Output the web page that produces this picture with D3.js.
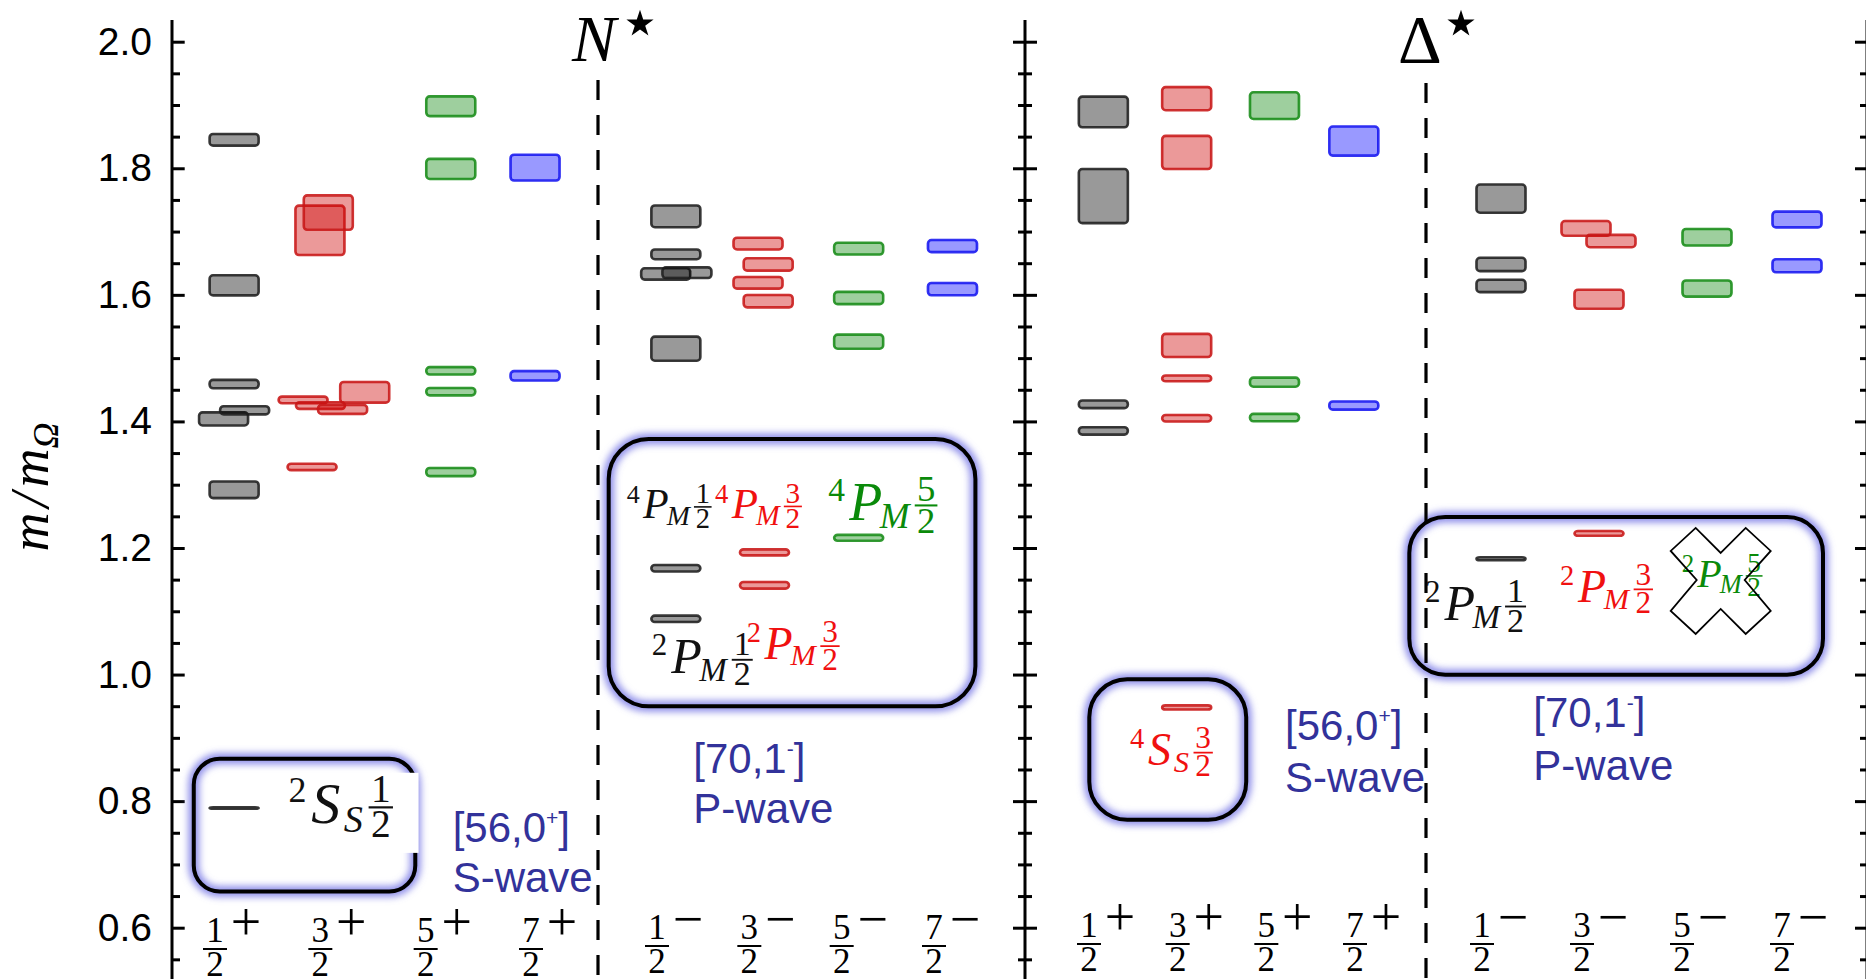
<!DOCTYPE html>
<html><head><meta charset="utf-8">
<script src="https://cdn.jsdelivr.net/npm/d3@7"></script>
<style>html,body{margin:0;padding:0;background:#fff}svg{display:block}</style>
</head><body>
<svg id="chart" width="1866" height="979"></svg>
<script>
// ---------------- DATA ----------------
const jLabels = ["1/2", "3/2", "5/2", "7/2"];
const tickLabels = ["0.6", "0.8", "1.0", "1.2", "1.4", "1.6", "1.8", "2.0"];
// each level: [J, m/mOmega, half-width of band, sideways shift (in category steps)]
const nStarPositive = [
  ["1/2", 1.845, 0.0113, 0.02], ["1/2", 1.615, 0.0179, 0.02], ["1/2", 1.459, 0.0087, 0.02],
  ["1/2", 1.404, 0.0124, -0.08], ["1/2", 1.4175, 0.0085, 0.12], ["1/2", 1.292, 0.0152, 0.02],
  ["1/2", 0.789, 0.0032, 0.02],
  ["3/2", 1.702, 0.0411, -0.165], ["3/2", 1.730, 0.0292, -0.086], ["3/2", 1.434, 0.0073, -0.325],
  ["3/2", 1.425, 0.0073, -0.16], ["3/2", 1.419, 0.0092, 0.05], ["3/2", 1.446, 0.0184, 0.26],
  ["3/2", 1.328, 0.0071, -0.24],
  ["5/2", 1.898, 0.0176, 0.077], ["5/2", 1.799, 0.0179, 0.077], ["5/2", 1.480, 0.0079, 0.077],
  ["5/2", 1.447, 0.0079, 0.077], ["5/2", 1.320, 0.0085, 0.077],
  ["7/2", 1.801, 0.0224, -0.123], ["7/2", 1.472, 0.0095, -0.123]
];
const nStarNegative = [
  ["1/2", 1.724, 0.0192, 0.02], ["1/2", 1.664, 0.0097, 0.02], ["1/2", 1.633, 0.0110, -0.09],
  ["1/2", 1.635, 0.0105, 0.14], ["1/2", 1.515, 0.0211, 0.02], ["1/2", 1.168, 0.0071, 0.02],
  ["1/2", 1.088, 0.0071, 0.02],
  ["3/2", 1.681, 0.0113, -0.09], ["3/2", 1.648, 0.0118, 0.02], ["3/2", 1.619, 0.0113, -0.09],
  ["3/2", 1.590, 0.0118, 0.02], ["3/2", 1.193, 0.0068, -0.02], ["3/2", 1.141, 0.0073, -0.02],
  ["5/2", 1.673, 0.0113, 0], ["5/2", 1.595, 0.0118, 0], ["5/2", 1.526, 0.0132, 0], ["5/2", 1.216, 0.0067, 0],
  ["7/2", 1.677, 0.0116, 0.016], ["7/2", 1.609, 0.0118, 0.016]
];
const deltaPositive = [
  ["1/2", 1.889, 0.0263, -0.03], ["1/2", 1.756, 0.0448, -0.03], ["1/2", 1.427, 0.0081, -0.03], ["1/2", 1.385, 0.0079, -0.03],
  ["3/2", 1.910, 0.0203, -0.09], ["3/2", 1.825, 0.0282, -0.09], ["3/2", 1.520, 0.0203, -0.09],
  ["3/2", 1.468, 0.0066, -0.09], ["3/2", 1.405, 0.0073, -0.09], ["3/2", 0.948, 0.0053, -0.09],
  ["5/2", 1.899, 0.0231, -0.10], ["5/2", 1.462, 0.0092, -0.10], ["5/2", 1.406, 0.0079, -0.10],
  ["7/2", 1.843, 0.0250, -0.205], ["7/2", 1.425, 0.0085, -0.205]
];
const deltaNegative = [
  ["1/2", 1.752, 0.0243, 0.02], ["1/2", 1.648, 0.0126, 0.02], ["1/2", 1.614, 0.0118, 0.02], ["1/2", 1.183, 0.0045, 0.02],
  ["3/2", 1.705, 0.0137, -0.13], ["3/2", 1.685, 0.0118, 0.12], ["3/2", 1.593, 0.0171, 0], ["3/2", 1.223, 0.0058, 0],
  ["5/2", 1.691, 0.0152, 0.08], ["5/2", 1.610, 0.0148, 0.08],
  ["7/2", 1.719, 0.0145, -0.02], ["7/2", 1.646, 0.0124, -0.02]
];
const parities = ["+", "−", "+", "−"];
const multipletTop = [["[56,0", "+", "]"], ["[70,1", "-", "]"], ["[56,0", "+", "]"], ["[70,1", "-", "]"]];
const multipletBottom = ["S-wave", "P-wave", "S-wave", "P-wave"];
const termLabels = [
  {panel: 0, s: 0.537, m: 0.7654, fs: 58, pre: "2", main: "S", sub: "S", num: "1", den: "2", c: "k"},
  {panel: 1, s: -0.512, m: 1.247, fs: 42, pre: "4", main: "P", sub: "M", num: "1", den: "2", c: "k"},
  {panel: 1, s: 0.444, m: 1.2473, fs: 43, pre: "4", main: "P", sub: "M", num: "3", den: "2", c: "r"},
  {panel: 1, s: 1.671, m: 1.2442, fs: 54, pre: "4", main: "P", sub: "M", num: "5", den: "2", c: "g"},
  {panel: 1, s: -0.2415, m: 1.002, fs: 50, pre: "2", main: "P", sub: "M", num: "1", den: "2", c: "k"},
  {panel: 1, s: 0.787, m: 1.0253, fs: 46, pre: "2", main: "P", sub: "M", num: "3", den: "2", c: "r"},
  {panel: 2, s: 0.271, m: 0.857, fs: 46, pre: "4", main: "S", sub: "S", num: "3", den: "2", c: "r"},
  {panel: 3, s: -0.74, m: 1.0862, fs: 50, pre: "2", main: "P", sub: "M", num: "1", den: "2", c: "k"},
  {panel: 3, s: 0.61, m: 1.115, fs: 46, pre: "2", main: "P", sub: "M", num: "3", den: "2", c: "r"},
  {panel: 3, s: 1.827, m: 1.1388, fs: 40, pre: "2", main: "P", sub: "M", num: "5", den: "2", c: "g"}
];

// ---------------- LAYOUT / STYLE ----------------
const W = 1866, H = 979;
const serif = "'Liberation Serif','Times New Roman',serif";
const sans = "'Liberation Sans',Arial,Helvetica,sans-serif";
const blueText = "#32329a";
const textColors = {k: "#111", r: "#f01010", g: "#0a8a0a"};
const levelStyle = {
  "1/2": {fill: "rgba(0,0,0,0.40)", stroke: "rgba(30,30,30,0.88)"},
  "3/2": {fill: "rgba(205,0,0,0.40)", stroke: "rgba(200,20,20,0.88)"},
  "5/2": {fill: "rgba(0,128,0,0.38)", stroke: "rgba(20,140,20,0.88)"},
  "7/2": {fill: "rgba(0,0,255,0.40)", stroke: "rgba(20,20,240,0.88)"}
};

const svg = d3.select("#chart");
svg.append("rect").attr("width", W).attr("height", H).attr("fill", "#fff");
const defs = svg.append("defs");
defs.append("filter").attr("id", "glow").attr("x", "-20%").attr("y", "-30%").attr("width", "140%").attr("height", "160%")
  .append("feGaussianBlur").attr("stdDeviation", 3.5);
defs.append("filter").attr("id", "soft").attr("x", "-20%").attr("y", "-200%").attr("width", "140%").attr("height", "500%")
  .append("feGaussianBlur").attr("stdDeviation", 0.45);

const y = d3.scaleLinear().domain([0.6, 2.0]).range([927.7, 41.7]);
const majorTicks = tickLabels.map(Number);
const minorTicks = d3.range(11, 41).filter(i => i % 4 !== 0).map(i => i / 20);

const panelRanges = [[232, 548], [674, 951], [1106, 1372], [1499, 1799]];
const panelData = [nStarPositive, nStarNegative, deltaPositive, deltaNegative];
const fracY = [949, 946, 944, 944];
const panels = panelRanges.map((r, i) => {
  const xs = d3.scalePoint().domain(jLabels).range(r);
  return {xs, data: panelData[i], parity: parities[i], fracY: fracY[i],
          sx: s => xs(jLabels[0]) + s * xs.step()};
});

// ---------------- AXES ----------------
function styleAxis(g) {
  g.select(".domain").remove();
  g.selectAll(".tick line").attr("stroke", "#000").attr("stroke-width", 3);
}
function vline(x, y0, y1) {
  svg.append("line").attr("x1", x).attr("x2", x).attr("y1", y0).attr("y2", y1)
    .attr("stroke", "#000").attr("stroke-width", 3);
}
// left axis
const axL = svg.append("g").attr("transform", "translate(172,0)");
axL.call(d3.axisLeft(y).tickValues(majorTicks).tickSize(-12.7).tickPadding(20).tickFormat((d, i) => tickLabels[i]));
axL.call(styleAxis);
axL.attr("font-size", 39).attr("font-family", sans);
axL.selectAll(".tick text").attr("fill", "#000");
const axL2 = svg.append("g").attr("transform", "translate(172,0)");
axL2.call(d3.axisLeft(y).tickValues(minorTicks).tickSize(-8).tickFormat(""));
axL2.call(styleAxis);
vline(172, 20, H);
// middle axis (ticks both sides)
[[d3.axisLeft, 12, 7], [d3.axisRight, 12, 7]].forEach(([ax, big, small]) => {
  const g1 = svg.append("g").attr("transform", "translate(1025,0)");
  g1.call(ax(y).tickValues(majorTicks).tickSize(big).tickFormat("")); g1.call(styleAxis);
  const g2 = svg.append("g").attr("transform", "translate(1025,0)");
  g2.call(ax(y).tickValues(minorTicks).tickSize(small).tickFormat("")); g2.call(styleAxis);
});
vline(1025, 20, H);
// right axis
const axR1 = svg.append("g").attr("transform", "translate(1867,0)");
axR1.call(d3.axisLeft(y).tickValues(majorTicks).tickSize(12).tickFormat("")); axR1.call(styleAxis);
const axR2 = svg.append("g").attr("transform", "translate(1867,0)");
axR2.call(d3.axisLeft(y).tickValues(minorTicks).tickSize(7).tickFormat("")); axR2.call(styleAxis);
vline(1867, 20, H);

// y-axis title
const yt = svg.append("text").attr("transform", "translate(48,487) rotate(-90)")
  .attr("text-anchor", "middle").attr("font-family", serif).attr("font-style", "italic")
  .attr("font-size", 54).attr("fill", "#000");
yt.append("tspan").text("m");
yt.append("tspan").text("/").attr("dx", 5);
yt.append("tspan").text("m").attr("dx", 5);
yt.append("tspan").text("Ω").attr("font-size", 36).attr("dy", 10);

// ---------------- BOXES (multiplet frames) ----------------
const boxes = [
  {panel: 0, s0: -0.382, s1: 1.759, m0: 0.654, m1: 0.870, r: 26},
  {panel: 1, s0: -0.729, s1: 3.286, m0: 0.9467, m1: 1.3755, r: 40},
  {panel: 2, s0: -0.211, s1: 1.604, m0: 0.7675, m1: 0.9956, r: 38},
  {panel: 3, s0: -0.917, s1: 3.26, m0: 0.9966, m1: 1.252, r: 36}
];
const gBoxes = svg.append("g");
boxes.forEach(b => {
  const p = panels[b.panel];
  const x0 = p.sx(b.s0) + 2, x1 = p.sx(b.s1) - 2, y0 = y(b.m1) + 2, y1 = y(b.m0) - 2;
  gBoxes.append("rect").attr("x", x0).attr("y", y0).attr("width", x1 - x0).attr("height", y1 - y0)
    .attr("rx", b.r).attr("fill", "none").attr("stroke", "#7b7be6").attr("stroke-width", 11)
    .attr("stroke-opacity", 0.85).attr("filter", "url(#glow)");
  gBoxes.append("rect").attr("x", x0).attr("y", y0).attr("width", x1 - x0).attr("height", y1 - y0)
    .attr("rx", b.r).attr("fill", "none").attr("stroke", "#000").attr("stroke-width", 4);
});
// white patch behind the 2S_S 1/2 label (as in the original picture)
{
  const p = panels[0];
  gBoxes.append("rect").attr("x", p.sx(0.50)).attr("y", y(0.8448))
    .attr("width", p.sx(1.771) - p.sx(0.50)).attr("height", y(0.7182) - y(0.8448)).attr("fill", "#fff");
}

// dashed separators
[[598, 80], [1426, 83]].forEach(([x, y0]) => {
  svg.append("line").attr("x1", x).attr("x2", x).attr("y1", y0).attr("y2", H)
    .attr("stroke", "#000").attr("stroke-width", 3.2).attr("stroke-dasharray", "20,15");
});

// ---------------- LEVELS ----------------
const barW = 49, sw = 2.6;
panels.forEach(p => {
  svg.append("g").attr("filter", "url(#soft)").selectAll("rect").data(p.data).join("rect")
    .attr("x", d => p.xs(d[0]) + d[3] * p.xs.step() - barW / 2)
    .attr("width", barW)
    .attr("y", d => y(d[1] + d[2]) + sw / 2)
    .attr("height", d => Math.max(0.6, y(d[1] - d[2]) - y(d[1] + d[2]) - sw))
    .attr("rx", 3.5)
    .attr("fill", d => levelStyle[d[0]].fill)
    .attr("stroke", d => levelStyle[d[0]].stroke)
    .attr("stroke-width", sw);
});

// ---------------- J^P tick labels ----------------
panels.forEach(p => {
  const g = svg.append("g").attr("font-family", serif).attr("fill", "#000");
  jLabels.forEach(j => {
    const [num, den] = j.split("/");
    const cx = p.xs(j), fx = cx - 17;
    g.append("text").attr("x", fx).attr("y", p.fracY - 7).attr("text-anchor", "middle").attr("font-size", 35).text(num);
    g.append("text").attr("x", fx).attr("y", p.fracY + 27).attr("text-anchor", "middle").attr("font-size", 35).text(den);
    g.append("line").attr("x1", fx - 12).attr("x2", fx + 12).attr("y1", p.fracY).attr("y2", p.fracY)
      .attr("stroke", "#000").attr("stroke-width", 2);
    g.append("text").attr("x", cx + 14).attr("y", p.fracY - 9).attr("text-anchor", "middle")
      .attr("font-size", 54).text(p.parity);
  });
});

// ---------------- Term labels (math style) ----------------
function mathLabel(x, yb, o) {
  const fs = o.fs, col = textColors[o.c];
  const g = svg.append("g").attr("fill", col).attr("font-family", serif);
  let cx = x;
  const pre = g.append("text").attr("x", cx).attr("y", yb - 0.36 * fs).attr("font-size", 0.62 * fs).text(o.pre);
  cx += pre.node().getComputedTextLength() + 0.08 * fs;
  const main = g.append("text").attr("x", cx).attr("y", yb).attr("font-size", fs).attr("font-style", "italic").text(o.main);
  cx += main.node().getComputedTextLength() + (o.main === "S" ? 0.06 * fs : -0.05 * fs);
  const sub = g.append("text").attr("x", cx).attr("y", yb + 0.15 * fs).attr("font-size", 0.66 * fs).attr("font-style", "italic").text(o.sub);
  cx += sub.node().getComputedTextLength() + 0.1 * fs;
  const n = g.append("text").attr("y", yb - 0.36 * fs).attr("font-size", 0.68 * fs).attr("text-anchor", "middle").text(o.num);
  const d = g.append("text").attr("y", yb + 0.24 * fs).attr("font-size", 0.68 * fs).attr("text-anchor", "middle").text(o.den);
  const w = Math.max(n.node().getComputedTextLength(), d.node().getComputedTextLength()) + 0.08 * fs;
  n.attr("x", cx + w / 2); d.attr("x", cx + w / 2);
  g.append("line").attr("x1", cx).attr("x2", cx + w).attr("y1", yb - 0.27 * fs).attr("y2", yb - 0.27 * fs)
    .attr("stroke", col).attr("stroke-width", Math.max(1.3, 0.038 * fs));
}
termLabels.forEach(t => mathLabel(panels[t.panel].sx(t.s), y(t.m), t));

// crossed-out 2P_M 5/2 (not present)
{
  const p = panels[3], cx = p.sx(2.217), cy = y(1.1479);
  const pts = [[0,-28],[25,-53],[50,-30],[24,-1],[50,30],[25,53],[0,28],[-25,53],[-50,30],[-24,-1],[-50,-30],[-25,-53]];
  svg.append("path").attr("d", d3.line()(pts.map(q => [cx + q[0], cy + q[1]])) + "Z")
    .attr("fill", "none").attr("stroke", "#000").attr("stroke-width", 1.8);
}

// ---------------- Multiplet names ----------------
const multipletAnchor = [[2.095, 0.7359, 0.6569], [0.209, 0.8444, 0.7657], [2.019, 0.8966, 0.8149], [0.343, 0.9171, 0.8334]];
multipletAnchor.forEach((a, i) => {
  const p = panels[i], x = p.sx(a[0]);
  const t = svg.append("text").attr("x", x).attr("y", y(a[1])).attr("font-family", sans).attr("font-size", 42).attr("fill", blueText);
  t.append("tspan").text(multipletTop[i][0]);
  t.append("tspan").text(multipletTop[i][1]).attr("font-size", 21).attr("dy", -17);
  t.append("tspan").text(multipletTop[i][2]).attr("dy", 17);
  svg.append("text").attr("x", x).attr("y", y(a[2])).attr("font-family", sans).attr("font-size", 42)
    .attr("fill", blueText).text(multipletBottom[i]);
});

// ---------------- Panel titles ----------------
svg.append("text").attr("x", 572).attr("y", 61).attr("font-family", serif).attr("font-style", "italic")
  .attr("font-size", 66).attr("fill", "#000").text("N");
svg.append("text").attr("x", 1398).attr("y", 62).attr("font-family", serif)
  .attr("font-size", 68).attr("fill", "#000").text("Δ");
[[640, 24], [1461, 24]].forEach(([x, yy]) => {
  svg.append("path").attr("d", d3.symbol(d3.symbolStar, 230)()).attr("transform", `translate(${x},${yy})`).attr("fill", "#000");
});
</script>
</body></html>
